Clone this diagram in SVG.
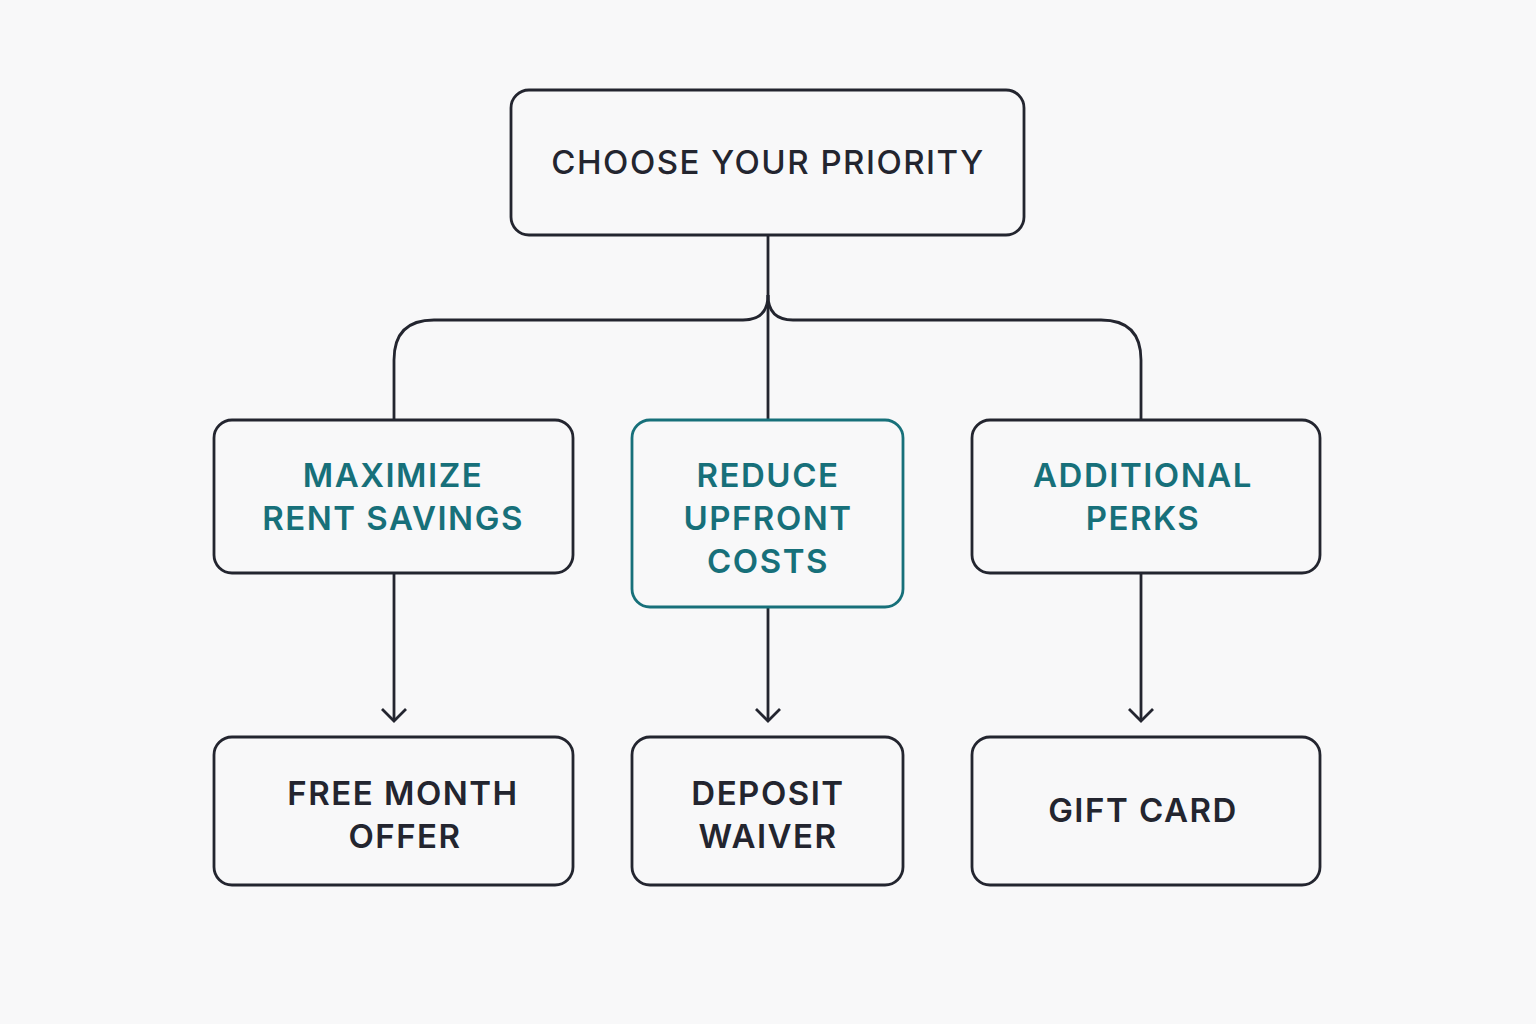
<svg xmlns="http://www.w3.org/2000/svg" width="1536" height="1024" viewBox="0 0 1536 1024">
<defs>
<style>
.box{fill:#f8f8f9;stroke:#23252f;stroke-width:2.8}
.hl{fill:#f8f8f9;stroke:#17707a;stroke-width:2.8}
.line{fill:none;stroke:#23252f;stroke-width:2.8}
.t{font-family:Inter,"Liberation Sans",sans-serif;font-size:33px;text-anchor:middle;letter-spacing:1.5px}
.dark{fill:#23252f;font-weight:600}
.top{fill:#23252f;font-weight:500}
.teal{fill:#17707a;font-weight:600}
</style>
<marker id="arr" viewBox="0 0 16 26" refX="14" refY="13" markerWidth="16" markerHeight="26" markerUnits="userSpaceOnUse" orient="auto">
<path d="M2,1 L14,13 L2,25" fill="none" stroke="#23252f" stroke-width="2.8"/>
</marker>
</defs>
<rect width="1536" height="1024" fill="#f8f8f9"/>
<g id="connectors">
<path class="line" d="M768,235 V420"/>
<path class="line" d="M768,295 Q768,320 743,320 H434 Q394,320 394,360 V420"/>
<path class="line" d="M768,295 Q768,320 793,320 H1101 Q1141,320 1141,360 V420"/>
<path class="line" d="M394,573 V721" marker-end="url(#arr)"/>
<path class="line" d="M768,607 V721" marker-end="url(#arr)"/>
<path class="line" d="M1141,573 V721" marker-end="url(#arr)"/>
</g>
<g id="n-priority">
<rect class="box" x="511" y="90" width="513" height="145" rx="18"/>
<text class="t top" x="768" y="174">CHOOSE YOUR PRIORITY</text>
</g>
<g id="n-rent">
<rect class="box" x="214" y="420" width="359" height="153" rx="18"/>
<text class="t teal" x="393" y="487">MAXIMIZE</text>
<text class="t teal" x="393" y="530">RENT SAVINGS</text>
</g>
<g id="n-upfront">
<rect class="hl" x="632" y="420" width="271" height="187" rx="18"/>
<text class="t teal" x="768" y="487">REDUCE</text>
<text class="t teal" x="768" y="530">UPFRONT</text>
<text class="t teal" x="768" y="573">COSTS</text>
</g>
<g id="n-perks">
<rect class="box" x="972" y="420" width="348" height="153" rx="18"/>
<text class="t teal" x="1143" y="487">ADDITIONAL</text>
<text class="t teal" x="1143" y="530">PERKS</text>
</g>
<g id="n-free">
<rect class="box" x="214" y="737" width="359" height="148" rx="18"/>
<text class="t dark" x="403" y="805">FREE MONTH</text>
<text class="t dark" x="405" y="848">OFFER</text>
</g>
<g id="n-deposit">
<rect class="box" x="632" y="737" width="271" height="148" rx="18"/>
<text class="t dark" x="768" y="805">DEPOSIT</text>
<text class="t dark" x="768" y="848">WAIVER</text>
</g>
<g id="n-gift">
<rect class="box" x="972" y="737" width="348" height="148" rx="18"/>
<text class="t dark" x="1143" y="822">GIFT CARD</text>
</g>
</svg>
